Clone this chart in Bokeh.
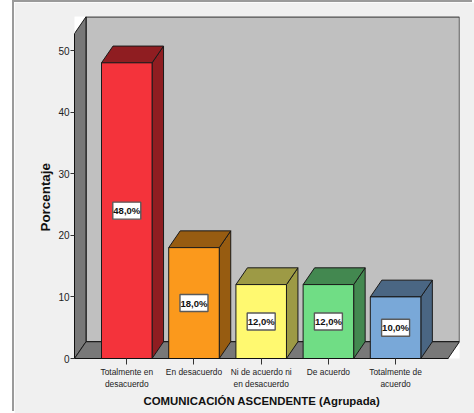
from bokeh.plotting import figure
from bokeh.models import Range1d, FixedTicker, Title
from bokeh.core.properties import value
from bokeh.embed import file_html
from bokeh.resources import INLINE

categories = ["Totalmente en\ndesacuerdo", "En desacuerdo", "Ni de acuerdo ni\nen desacuerdo", "De acuerdo", "Totalmente de\nacuerdo"]
values = [48.0, 18.0, 12.0, 12.0, 10.0]
labels = ["48,0%", "18,0%", "12,0%", "12,0%", "10,0%"]
front_colors = ["#F4333B", "#FB991C", "#FFF970", "#70DD85", "#79A8D8"]
side_colors = ["#8F1D21", "#975C11", "#9D9A45", "#438850", "#4A6683"]
y_ticks = [0, 10, 20, 30, 40, 50]
x_title = "COMUNICACIÓN ASCENDENTE (Agrupada)"
y_title = "Porcentaje"

FONT = "Liberation Sans"
DX, DY = 0.171, 2.72      # 3-D depth in data units
HALF = 0.376              # half bar width
X0, X1 = -0.778, 4.78     # floor front edge
YTOP = 52.75              # front top of left wall

p = figure(width=460, height=411, output_backend="svg", toolbar_location=None,
           x_range=Range1d(X0, 4.951), y_range=Range1d(0, 55.52),
           min_border_left=60, min_border_right=15, min_border_top=14, min_border_bottom=55,
           border_fill_color="#f0f0f0", background_fill_color=None,
           outline_line_color=None, margin=(2, 0, 0, 14),
           styles={"box-shadow": "-2px -2px 0 0 #9a9a9a"})
p.grid.visible = False

# walls
p.patch([X0 + DX, X1 + DX, X1 + DX, X0 + DX], [DY, DY, YTOP + DY, YTOP + DY],
        fill_color="#c0c0c0", line_color="#1a1a1a", line_width=1.3)
p.patch([X0, X0 + DX, X0 + DX, X0], [0, DY, YTOP + DY, YTOP],
        fill_color="#787878", line_color="#1a1a1a", line_width=1.0)
p.patch([X0, X1, X1 + DX, X0 + DX], [0, 0, DY, DY],
        fill_color="#787878", line_color="#1a1a1a", line_width=1.0)

xs = list(range(len(values)))
for x, v, fc, sc in zip(xs, values, front_colors, side_colors):
    l, r = x - HALF, x + HALF
    p.patch([r, r + DX, r + DX, r], [0, DY, v + DY, v], fill_color=sc, line_color="#1a1a1a", line_width=1)
    p.patch([l, l + DX, r + DX, r], [v, v + DY, v + DY, v], fill_color=sc, line_color="#1a1a1a", line_width=1)
    p.patch([l, r, r, l], [0, 0, v, v], fill_color=fc, line_color="#1a1a1a", line_width=1)

mids = [v / 2 for v in values]
p.rect(xs, mids, width=28, height=17, width_units="screen", height_units="screen",
       fill_color="#ffffff", line_color="#5a5a5a", line_width=1.4)
p.text(xs, mids, text=labels, text_align="center", text_baseline="middle",
       text_font=value(FONT), text_font_size="9.5px", text_font_style="bold", text_color="#111111")

ax = p.xaxis[0]
ax.ticker = FixedTicker(ticks=xs)
ax.major_label_overrides = {i: c for i, c in enumerate(categories)}
ax.bounds = (X0, X1)
ax.major_label_text_font = FONT
ax.major_label_text_font_size = "8.4px"
ax.major_label_text_color = "#222222"
ax.major_label_standoff = 2
ax.major_tick_in = 0
ax.major_tick_out = 6
ax.minor_tick_line_color = None
ax.axis_line_color = "#111111"
ax.major_tick_line_color = "#333333"

ay = p.yaxis[0]
ay.ticker = FixedTicker(ticks=y_ticks)
ay.bounds = (0, YTOP)
ay.major_label_text_font = FONT
ay.major_label_text_font_size = "10px"
ay.major_label_text_color = "#222222"
ay.major_label_standoff = 1
ay.major_tick_in = 0
ay.major_tick_out = 4
ay.minor_tick_line_color = None
ay.axis_line_color = "#111111"
ay.major_tick_line_color = "#333333"

p.add_layout(Title(text=x_title, align="left", offset=69, standoff=3,
                   text_font=FONT, text_font_size="11.4px", text_font_style="bold",
                   text_color="#111111"), "below")
p.add_layout(Title(text=y_title, align="left", offset=127, standoff=5,
                   text_font=FONT, text_font_size="13.4px", text_font_style="bold",
                   text_color="#111111"), "left")

open("out.html", "w").write(file_html(p, INLINE))
